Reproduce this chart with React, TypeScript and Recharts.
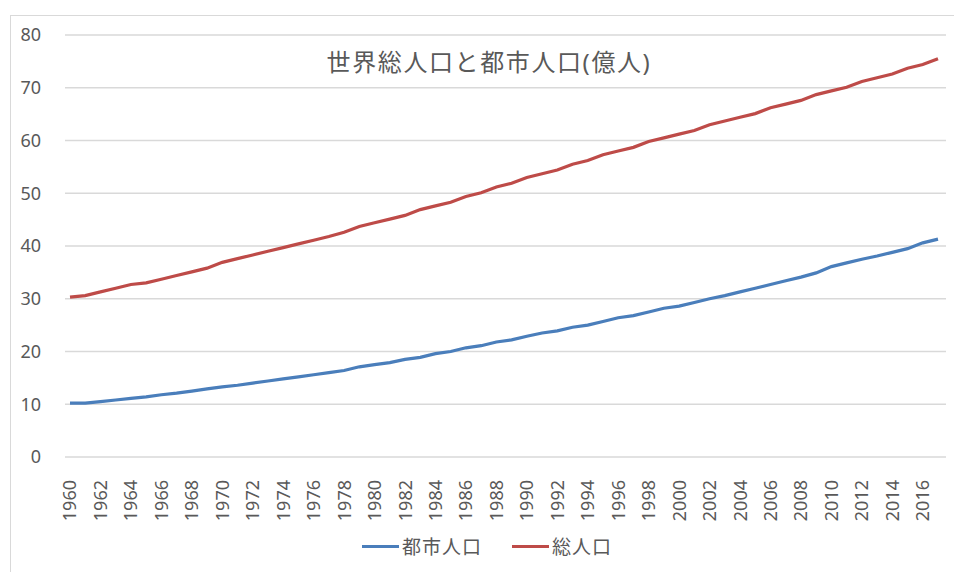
import React from "react";
import { LineChart, Line, XAxis, YAxis, CartesianGrid } from "recharts";

const years = [
  1960, 1961, 1962, 1963, 1964, 1965, 1966, 1967, 1968, 1969,
  1970, 1971, 1972, 1973, 1974, 1975, 1976, 1977, 1978, 1979,
  1980, 1981, 1982, 1983, 1984, 1985, 1986, 1987, 1988, 1989,
  1990, 1991, 1992, 1993, 1994, 1995, 1996, 1997, 1998, 1999,
  2000, 2001, 2002, 2003, 2004, 2005, 2006, 2007, 2008, 2009,
  2010, 2011, 2012, 2013, 2014, 2015, 2016, 2017,
];

// 都市人口 (億人)
const urban = [
  10.2, 10.2, 10.5, 10.8, 11.1, 11.4, 11.8, 12.1, 12.5, 12.9,
  13.3, 13.6, 14.0, 14.4, 14.8, 15.2, 15.6, 16.0, 16.4, 17.1,
  17.5, 17.9, 18.5, 18.9, 19.6, 20.0, 20.7, 21.1, 21.8, 22.2,
  22.9, 23.5, 23.9, 24.6, 25.0, 25.7, 26.4, 26.8, 27.5, 28.2,
  28.6, 29.3, 30.0, 30.6, 31.3, 32.0, 32.7, 33.4, 34.1, 34.9,
  36.1, 36.8, 37.5, 38.1, 38.8, 39.5, 40.6, 41.3,
];

// 総人口 (億人)
const total = [
  30.3, 30.6, 31.3, 32.0, 32.7, 33.0, 33.7, 34.4, 35.1, 35.8,
  36.9, 37.6, 38.3, 39.0, 39.7, 40.4, 41.1, 41.8, 42.6, 43.7,
  44.4, 45.1, 45.8, 46.9, 47.6, 48.3, 49.4, 50.1, 51.2, 51.9,
  53.0, 53.7, 54.4, 55.5, 56.2, 57.3, 58.0, 58.7, 59.8, 60.5,
  61.2, 61.9, 63.0, 63.7, 64.4, 65.1, 66.2, 66.9, 67.6, 68.7,
  69.4, 70.1, 71.2, 71.9, 72.6, 73.7, 74.4, 75.5,
];

const yTicks = [0, 10, 20, 30, 40, 50, 60, 70, 80];

const series = [
  { key: "urban", name: "都市人口", color: "#4A7EBB" },
  { key: "total", name: "総人口", color: "#BE4B48" },
];

const data = years.map((y, i) => ({ year: String(y), urban: urban[i], total: total[i] }));

const FONT = "'Noto Sans', 'Noto Sans CJK JP', sans-serif";
const TEXT = "#595959";

function YearTick(props: any) {
  const { x, y, payload } = props;
  return (
    <text
      transform={`translate(${x},${y + 15}) rotate(-90)`}
      textAnchor="end"
      dy="0.36em"
      fill={TEXT}
      fontSize={18}
      fontFamily={FONT}
    >
      {payload.value}
    </text>
  );
}

export default function App() {
  return (
    <div style={{ position: "absolute", left: 0, top: 0, width: 954, height: 572, background: "#fff", overflow: "hidden", fontFamily: FONT }}>
      <div style={{ position: "absolute", left: 10, top: 15, width: 980, height: 600, border: "1px solid #d9d9d9" }} />
      <LineChart width={954} height={572} data={data} margin={{ top: 35, right: 8, bottom: 55, left: 0 }}>
        <CartesianGrid vertical={false} stroke="#d9d9d9" strokeWidth={1.3} />
        <XAxis
          dataKey="year"
          interval={1}
          height={60}
          axisLine={false}
          tickLine={false}
          tick={<YearTick />}
          padding={{ left: 5, right: 8 }}
        />
        <YAxis
          width={65}
          domain={[0, 80]}
          ticks={yTicks}
          axisLine={false}
          tickLine={false}
          tick={{ fill: TEXT, fontSize: 18, fontFamily: FONT }}
          tickMargin={18}
        />
        {series.map((s) => (
          <Line
            key={s.key}
            type="linear"
            dataKey={s.key}
            name={s.name}
            stroke={s.color}
            strokeWidth={3.2}
            dot={false}
            isAnimationActive={false}
          />
        ))}
      </LineChart>
      <div style={{ position: "absolute", left: 0, width: 978, top: 43, textAlign: "center", fontSize: 24, color: TEXT, letterSpacing: 1.6 }}>
        世界総人口と都市人口(億人)
      </div>
      <div style={{ position: "absolute", left: 362, top: 532, display: "flex", alignItems: "center", fontSize: 19, color: TEXT }}>
        {series.map((s, i) => (
          <div key={s.key} style={{ display: "flex", alignItems: "center", marginLeft: i === 0 ? 0 : 30 }}>
            <div style={{ width: 37, height: 3, background: s.color, marginRight: 3 }} />
            <span style={{ letterSpacing: 1 }}>{s.name}</span>
          </div>
        ))}
      </div>
    </div>
  );
}
